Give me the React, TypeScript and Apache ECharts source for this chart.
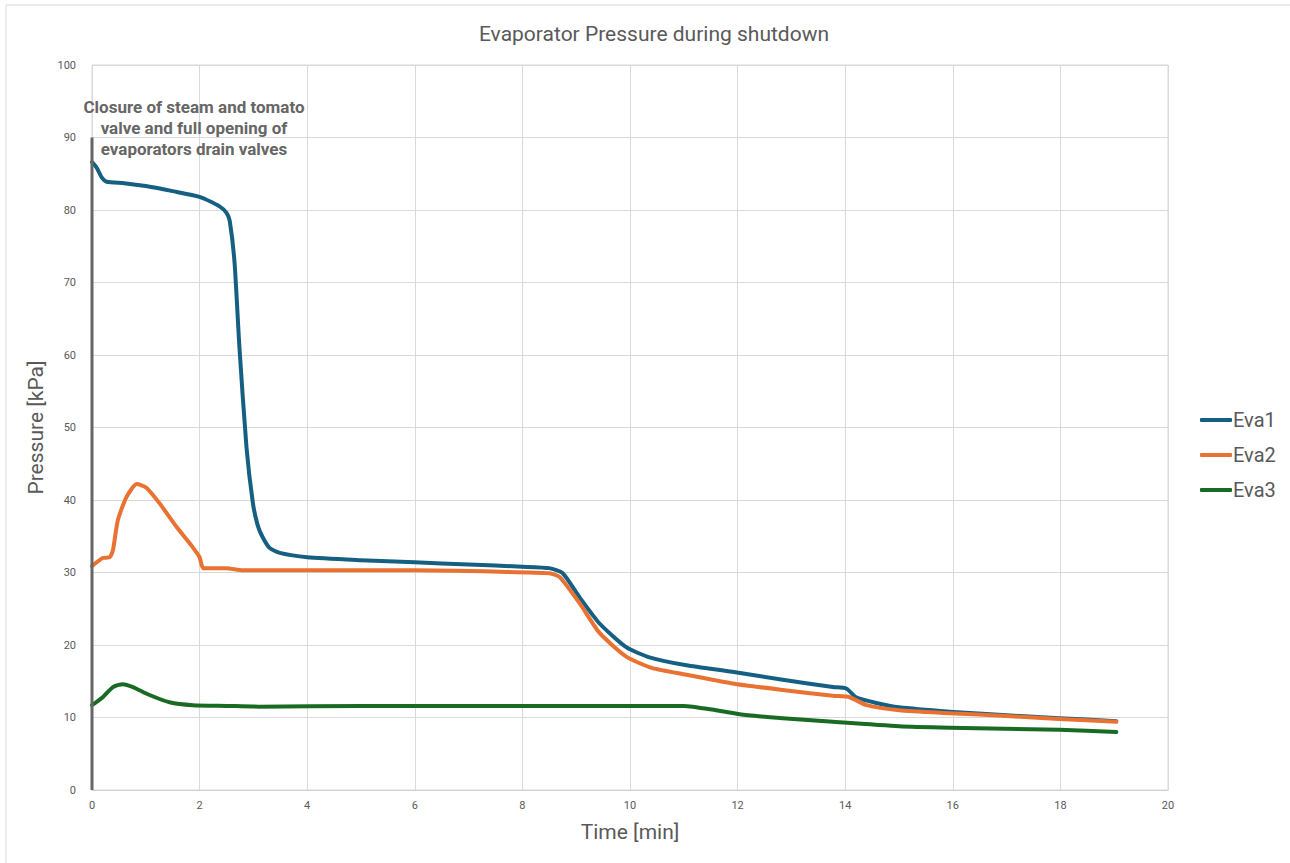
import React, { useEffect, useRef } from "react";
import * as echarts from "echarts";

const xTicks = [0, 2, 4, 6, 8, 10, 12, 14, 16, 18, 20];
const seriesNames = ["Eva1", "Eva2", "Eva3"];

const eva1: [number, number][] = [
  [0, 86.6], [0.09, 85.8], [0.18, 84.5], [0.27, 83.9], [0.6, 83.7], [1.0, 83.3],
  [1.5, 82.6], [2.0, 81.8], [2.37, 80.5], [2.5, 79.6], [2.56, 78.5], [2.65, 72.7],
  [2.74, 61.1], [2.87, 47.4], [2.99, 39.6], [3.08, 36.5], [3.17, 34.9], [3.3, 33.4],
  [3.49, 32.7], [4, 32.1], [5, 31.7], [6, 31.4], [7, 31.1], [8, 30.8], [8.5, 30.6],
  [8.75, 29.9], [9.06, 26.6], [9.43, 23.0], [9.93, 19.7], [10.36, 18.3], [11.05, 17.2],
  [11.9, 16.3], [12.84, 15.2], [13.77, 14.2], [14.02, 14.0], [14.2, 12.8], [14.58, 12.0],
  [15.0, 11.4], [15.94, 10.8], [17, 10.3], [17.98, 9.9], [19.04, 9.5],
];

const eva2: [number, number][] = [
  [0, 30.9], [0.2, 32.0], [0.33, 32.1], [0.39, 33.1], [0.48, 37.2], [0.64, 40.4],
  [0.83, 42.2], [1.01, 41.7], [1.25, 39.6], [1.57, 36.3], [1.87, 33.5], [2.0, 32.1],
  [2.07, 30.6], [2.5, 30.6], [2.8, 30.3], [4, 30.3], [6, 30.3], [7.58, 30.1],
  [8.5, 29.9], [8.69, 29.4], [9.06, 25.8], [9.43, 21.7], [9.93, 18.4], [10.42, 16.8],
  [11.05, 15.9], [11.9, 14.7], [12.84, 13.8], [13.77, 13.0], [14.08, 12.8], [14.4, 11.7],
  [15.0, 11.0], [15.94, 10.6], [17, 10.2], [17.98, 9.8], [19.04, 9.4],
];

const eva3: [number, number][] = [
  [0, 11.7], [0.2, 12.8], [0.39, 14.2], [0.57, 14.6], [0.76, 14.2], [1.07, 13.1],
  [1.44, 12.1], [1.87, 11.7], [2.5, 11.6], [3.1, 11.5], [5, 11.6], [8, 11.6],
  [11.0, 11.6], [11.6, 11.0], [12.2, 10.3], [12.84, 9.9], [13.77, 9.4], [15.0, 8.8],
  [15.94, 8.6], [17.98, 8.3], [19.04, 8.0],
];

const markerLine: [number, number][] = [[0, 0], [0, 90]];
const annotationLines = [
  "Closure of steam and tomato",
  "valve and full opening of",
  "evaporators drain valves",
];

const colors = ["#156082", "#E97132", "#196B24"];

export default function App() {
  const ref = useRef<HTMLDivElement>(null);
  useEffect(() => {
    if (!ref.current) return;
    const chart = echarts.init(ref.current, undefined, { renderer: "svg" });
    const font = "Roboto, 'Liberation Sans', sans-serif";
    const mkLine = (name: string, data: [number, number][], color: string) => ({
      name,
      type: "line",
      data,
      smooth: 0.2,
      showSymbol: false,
      symbol: "none",
      lineStyle: { color, width: 4, cap: "round", join: "round" },
      itemStyle: { color },
      z: 3,
    });
    chart.setOption({
      animation: false,
      textStyle: { fontFamily: font },
      title: {
        text: "Evaporator Pressure during shutdown",
        left: 649,
        top: 18,
        textAlign: "center",
        textStyle: { fontSize: 21, fontWeight: "normal", color: "#595959", fontFamily: font },
      },
      legend: {
        data: seriesNames,
        orient: "vertical",
        left: 1195,
        top: 405,
        itemWidth: 32,
        itemHeight: 4,
        itemGap: 15,
        icon: "roundRect",
        textStyle: { fontSize: 20, color: "#595959", fontFamily: font, padding: [0, 0, 0, -4] },
      },
      grid: {
        left: 92,
        right: 122,
        top: 65,
        bottom: 73,
        show: true,
        borderColor: "#d9d9d9",
        borderWidth: 1,
      },
      xAxis: {
        type: "value",
        min: xTicks[0],
        max: xTicks[xTicks.length - 1],
        interval: 2,
        name: "Time [min]",
        nameLocation: "middle",
        nameGap: 31,
        nameTextStyle: { fontSize: 21, color: "#595959", fontFamily: font },
        axisLine: { show: true, lineStyle: { color: "#d0d0d0" } },
        axisTick: { show: false },
        axisLabel: { color: "#595959", fontSize: 11, margin: 10 },
        splitLine: { show: true, lineStyle: { color: "#d9d9d9" } },
      },
      yAxis: {
        type: "value",
        min: 0,
        max: 100,
        interval: 10,
        name: "Pressure [kPa]",
        nameLocation: "middle",
        nameGap: 42,
        nameTextStyle: { fontSize: 21, color: "#595959", fontFamily: font },
        axisLine: { show: false },
        axisTick: { show: false },
        axisLabel: { color: "#595959", fontSize: 11, margin: 16 },
        splitLine: { show: true, lineStyle: { color: "#d9d9d9" } },
      },
      graphic: [
        {
          type: "rect",
          shape: { x: 6, y: 5, width: 1400, height: 1000 },
          style: { fill: "none", stroke: "#d9d9d9", lineWidth: 1 },
          silent: true,
          z: -10,
        },
        {
          type: "text",
          x: 194,
          y: 96,
          style: {
            text: annotationLines.join("\n"),
            fill: "#666666",
            font: `bold 17px ${font}`,
            align: "center",
            verticalAlign: "top",
            lineHeight: 21,
          },
          z: 10,
        },
      ],
      series: [
        mkLine(seriesNames[0], eva1, colors[0]),
        mkLine(seriesNames[1], eva2, colors[1]),
        mkLine(seriesNames[2], eva3, colors[2]),
        {
          name: "marker",
          type: "line",
          data: markerLine,
          symbol: "none",
          silent: true,
          lineStyle: { color: "#666666", width: 3 },
          z: 5,
        },
      ],
    });
    return () => chart.dispose();
  }, []);
  return (
    <div
      ref={ref}
      style={{ position: "fixed", left: 0, top: 0, width: 1290, height: 863, background: "#fff" }}
    />
  );
}
